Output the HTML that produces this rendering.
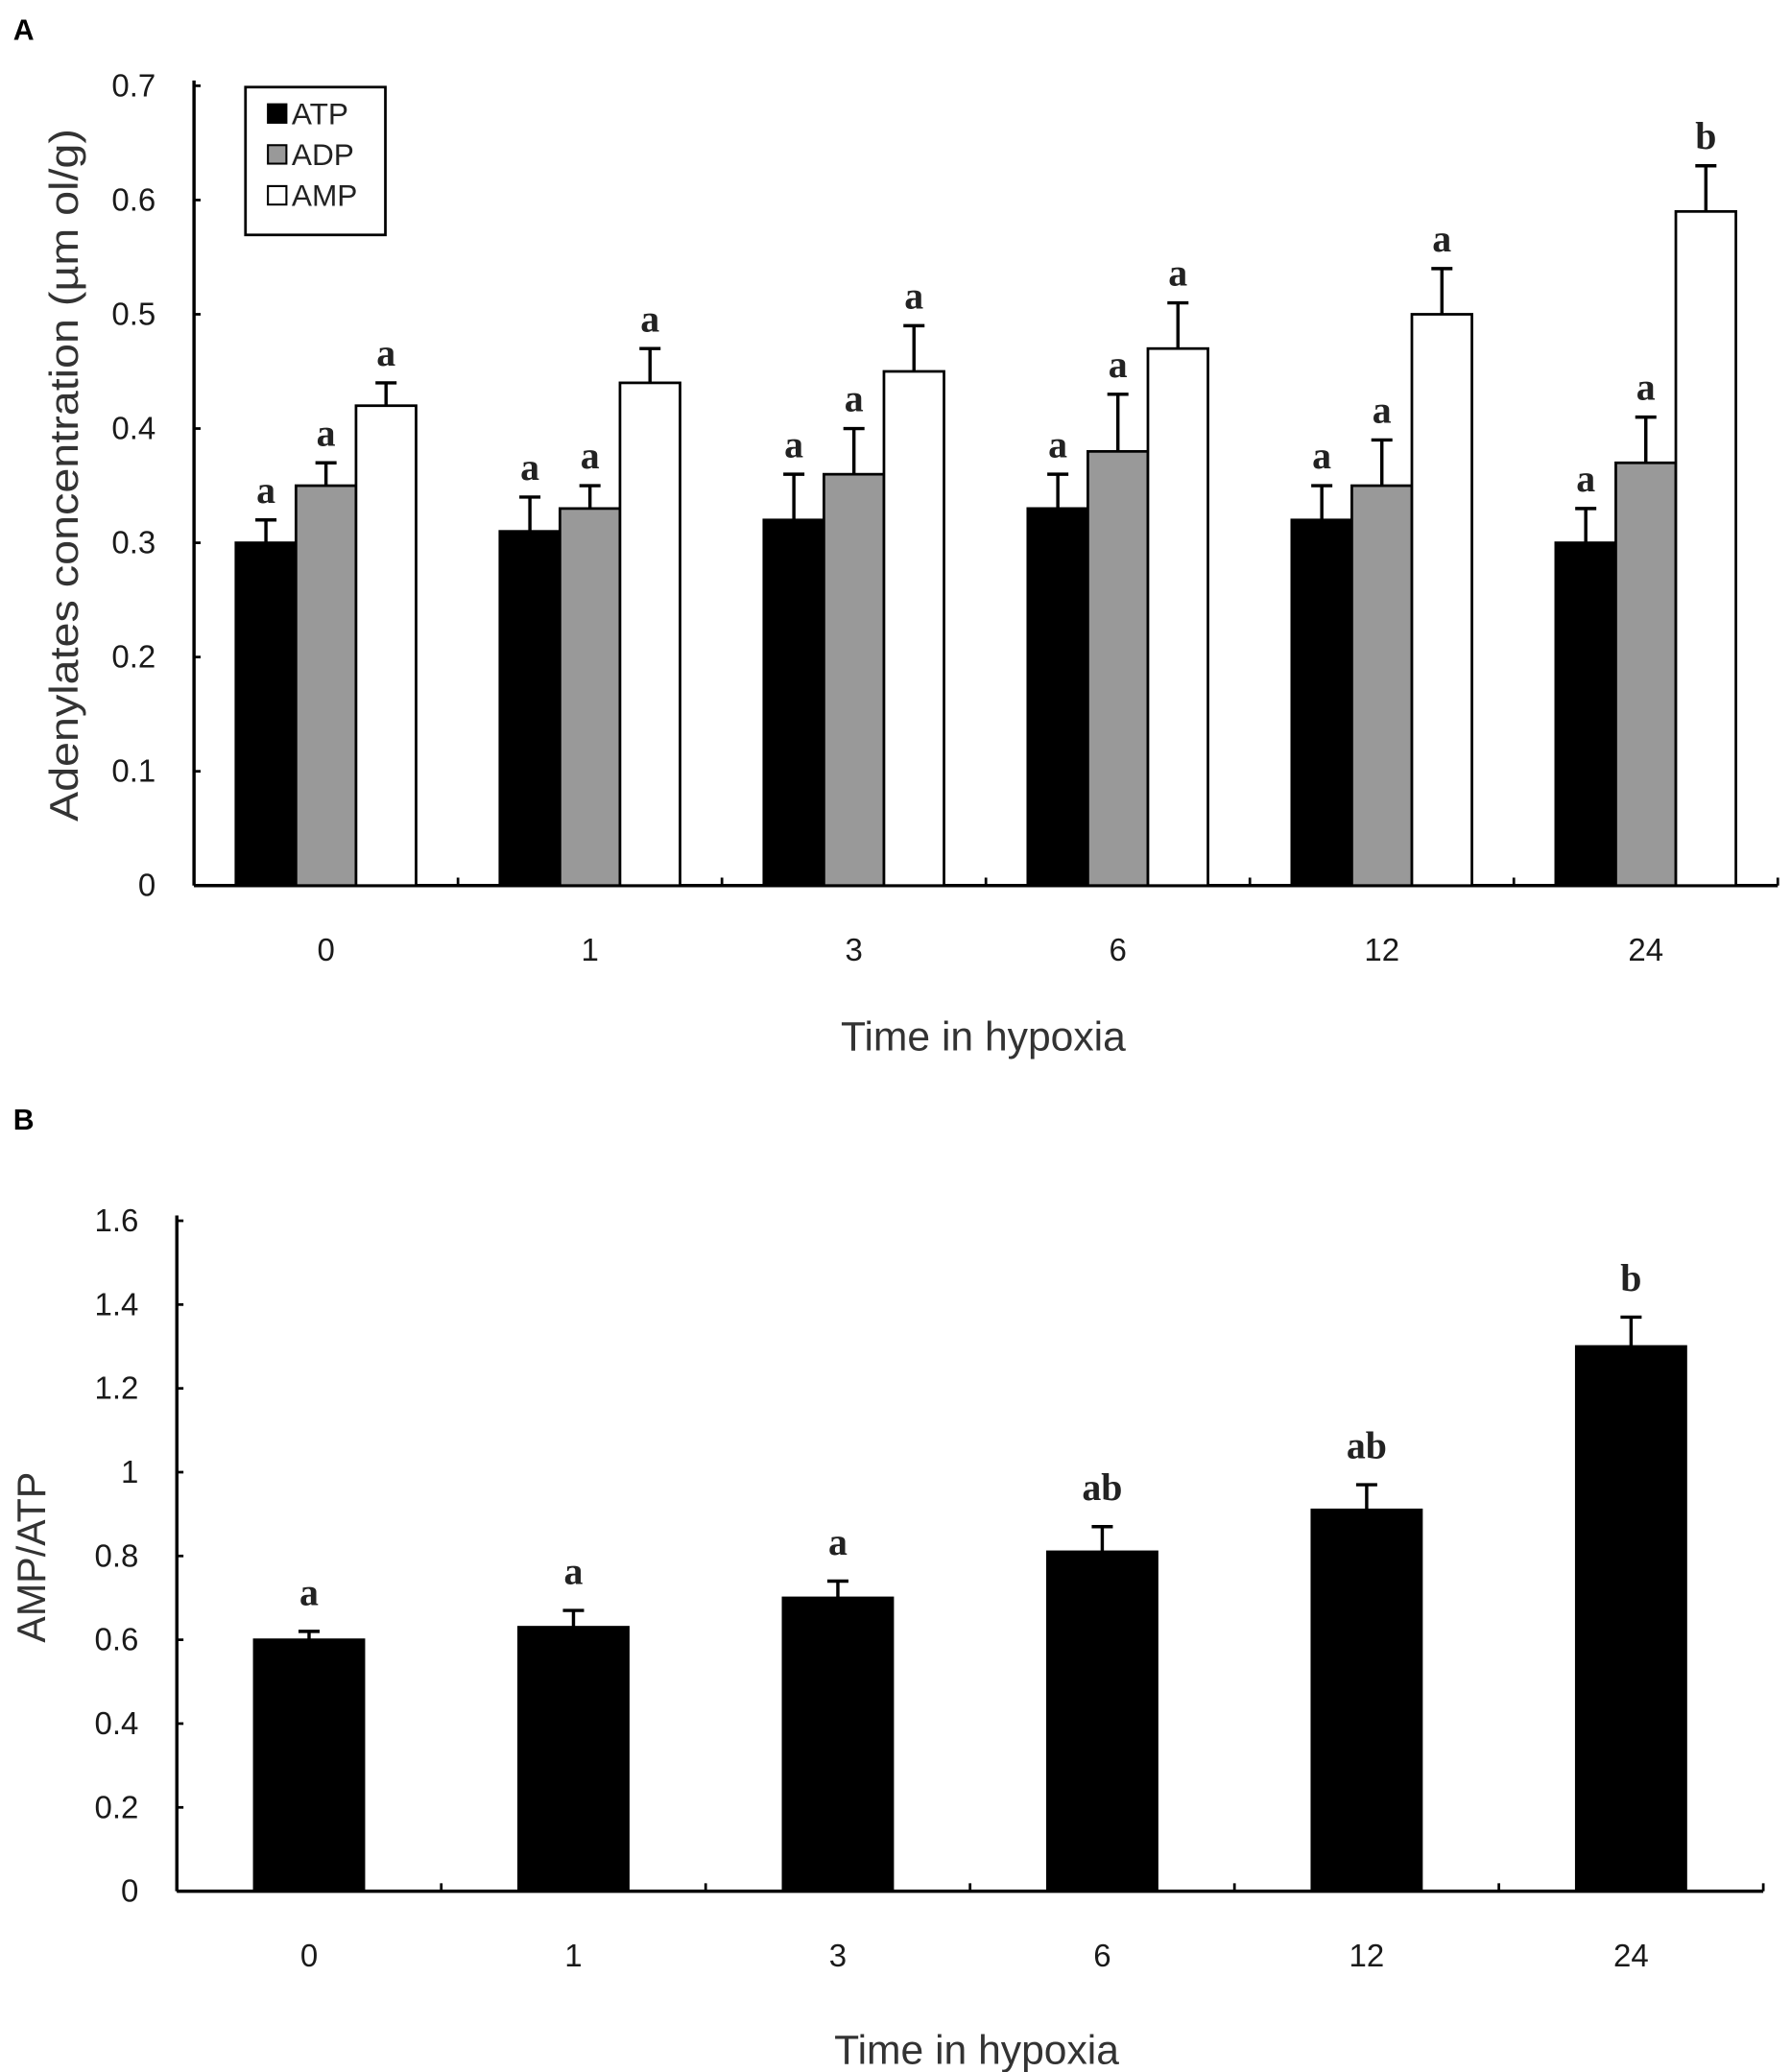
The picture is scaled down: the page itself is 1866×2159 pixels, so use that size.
<!DOCTYPE html>
<html><head><meta charset="utf-8">
<style>
html,body{margin:0;padding:0;background:#fff;}
svg{display:block;}
text{font-family:"Liberation Sans",Arial,sans-serif;}
.tick{font-size:24px;fill:#1a1a1a;}
.ttl{font-size:31px;fill:#333;}
.sig{font-family:"Liberation Serif",serif;font-size:29px;font-weight:bold;fill:#222;}
</style></head>
<body>
<svg id="fig" width="1866" height="2159" viewBox="0 0 1357 1570" preserveAspectRatio="none" xmlns="http://www.w3.org/2000/svg">
<text x="10" y="30" style="font-size:22px;font-weight:bold">A</text>
<text x="10" y="856" style="font-size:22px;font-weight:bold">B</text>
<g id="chartA"></g>
<g id="chartB"></g>
</svg>
<script>
const categories = ["0","1","3","6","12","24"];
const atpValues = [0.30,0.31,0.32,0.33,0.32,0.30];
const atpErr = [0.02,0.03,0.04,0.03,0.03,0.03];
const adpValues = [0.35,0.33,0.36,0.38,0.35,0.37];
const adpErr = [0.02,0.02,0.04,0.05,0.04,0.04];
const ampValues = [0.42,0.44,0.45,0.47,0.50,0.59];
const ampErr = [0.02,0.03,0.04,0.04,0.04,0.04];
const ampLetters = ["a","a","a","a","a","b"];
const atpLetters = ["a","a","a","a","a","a"];
const adpLetters = ["a","a","a","a","a","a"];
const yTicksA = [0,0.1,0.2,0.3,0.4,0.5,0.6,0.7];
const yTickLabelsA = ["0","0.1","0.2","0.3","0.4","0.5","0.6","0.7"];
const ratioValues = [0.60,0.63,0.70,0.81,0.91,1.30];
const ratioErr = [0.02,0.04,0.04,0.06,0.06,0.07];
const ratioLetters = ["a","a","a","ab","ab","b"];
const yTicksB = [0,0.2,0.4,0.6,0.8,1.0,1.2,1.4,1.6];
const yTickLabelsB = ["0","0.2","0.4","0.6","0.8","1","1.2","1.4","1.6"];

const NS="http://www.w3.org/2000/svg";
function mk(parent,tag,attrs,txt){const e=document.createElementNS(NS,tag);for(const k in attrs)e.setAttribute(k,attrs[k]);if(txt!==undefined)e.textContent=txt;parent.appendChild(e);return e;}

function drawChart(g,cfg){
  const {x0,x1,y0,yTop,ymax}=cfg;
  const ys=v=>y0-(v/ymax)*(y0-yTop);
  const band=(x1-x0)/categories.length;
  const xc=i=>x0+band*(i+0.5);
  let e=mk(g,"line",{x1:x0,y1:yTop-4,x2:x0,y2:y0,stroke:"#000","stroke-width":2.5});
  
  
  e=mk(g,"line",{x1:x0,y1:y0,x2:x1,y2:y0,stroke:"#000","stroke-width":2.5});
  
  
  cfg.ticks.forEach((t,i)=>{
    const y=ys(t);
    let l=mk(g,"line",{x1:x0,y1:y,x2:x0+5,y2:y,stroke:"#000","stroke-width":2});
    
    
    let tx=mk(g,"text",{x:x0-29,y:y+8,"text-anchor":"end",class:"tick"},cfg.tickLabels[i]);
    
    
  });
  for(let i=1;i<=categories.length;i++){
    const x=x0+band*i;
    let l=mk(g,"line",{x1:x,y1:y0,x2:x,y2:y0-6,stroke:"#000","stroke-width":2});
    
    
  }
  categories.forEach((c,i)=>{
    let tx=mk(g,"text",{x:xc(i),y:cfg.xlabY,"text-anchor":"middle",class:"tick"},c);
    
    
  });
  cfg.series.forEach((s,si)=>{
    s.values.forEach((v,i)=>{
      const bx=xc(i)+s.offset-cfg.bw/2;
      const top=ys(v);
      let r=mk(g,"rect",{x:bx,y:top,width:cfg.bw,height:y0-top,fill:s.fill,stroke:"#000","stroke-width":2});
      
      
      const et=ys(v+s.err[i]);const cx=bx+cfg.bw/2;
      let el=mk(g,"path",{d:`M${cx},${top} V${et} M${cx-8},${et} H${cx+8}`,stroke:"#000","stroke-width":2.5,fill:"none"});
      
      
      let lt=mk(g,"text",{x:cx,y:et-cfg.letterGap,"text-anchor":"middle",class:"sig"},s.letters[i]);
      
      
    });
  });
}

const gA=document.getElementById("chartA");
drawChart(gA,{x0:147,x1:1347,y0:671,yTop:65,ymax:0.7,bw:45.5,xlabY:728,letterGap:13,ticks:yTicksA,tickLabels:yTickLabelsA,
 series:[{name:"atp",values:atpValues,err:atpErr,letters:atpLetters,fill:"#000",offset:-45.5},
         {name:"adp",values:adpValues,err:adpErr,letters:adpLetters,fill:"#999",offset:0},
         {name:"amp",values:ampValues,err:ampErr,letters:ampLetters,fill:"#fff",offset:45.5}]});
let t=mk(gA,"text",{x:745,y:796,"text-anchor":"middle",class:"ttl"},"Time in hypoxia");


t=mk(gA,"text",{x:0,y:0,"text-anchor":"middle",class:"ttl",style:"font-size:30px","textLength":525,"lengthAdjust":"spacingAndGlyphs",transform:"translate(59,360) rotate(-90)"},"Adenylates concentration (µm ol/g)");


const lg=mk(gA,"g",{});


mk(lg,"rect",{x:186,y:66,width:106,height:112,fill:"#fff",stroke:"#000","stroke-width":2});
[["ATP","#000",85],["ADP","#999",116],["AMP","#fff",147]].forEach(d=>{
  const en=mk(lg,"g",{});
  
  
  mk(en,"rect",{x:203,y:d[2]-6,width:14,height:14,fill:d[1],stroke:"#000","stroke-width":1.5});
  mk(en,"text",{x:221,y:d[2]+9,style:"font-size:23px;fill:#222"},d[0]);
});

const gB=document.getElementById("chartB");
drawChart(gB,{x0:134,x1:1336,y0:1433,yTop:925,ymax:1.6,bw:83,xlabY:1490,letterGap:20,ticks:yTicksB,tickLabels:yTickLabelsB,
 series:[{name:"amp-atp",values:ratioValues,err:ratioErr,letters:ratioLetters,fill:"#000",offset:0}]});
t=mk(gB,"text",{x:740,y:1564,"text-anchor":"middle",class:"ttl"},"Time in hypoxia");


t=mk(gB,"text",{x:0,y:0,"text-anchor":"middle",class:"ttl",style:"font-size:30px",transform:"translate(34,1180) rotate(-90)"},"AMP/ATP");


</script>
</body></html>
